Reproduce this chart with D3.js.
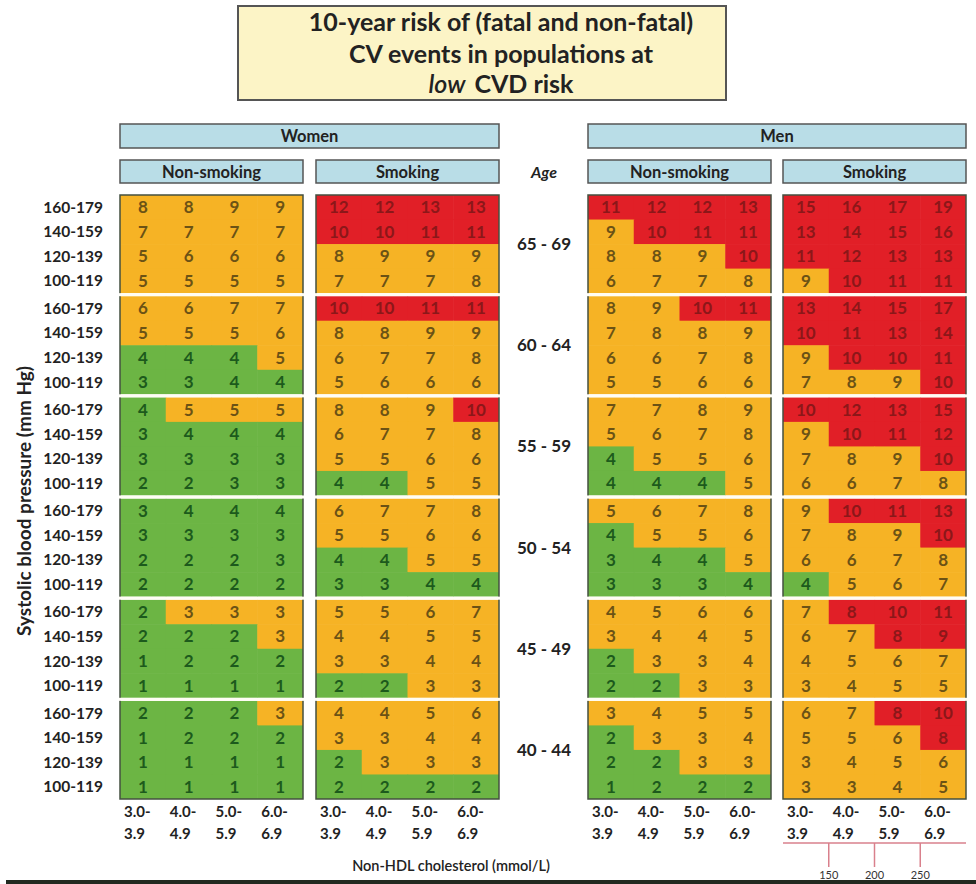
<!DOCTYPE html>
<html>
<head>
<meta charset="utf-8">
<script src="https://cdn.jsdelivr.net/npm/d3@7"></script>
<style>
  body { margin: 0; background: #fff; }
  svg text { font-family: Lato, "Noto Sans", sans-serif; font-weight: 700; }
</style>
</head>
<body>
<svg id="chart"></svg>
<script>
// Row / column categories
const ages = ["65 - 69", "60 - 64", "55 - 59", "50 - 54", "45 - 49", "40 - 44"];
const sbpRows = ["160-179", "140-159", "120-139", "100-119"];
const cholLow = ["3.0-", "4.0-", "5.0-", "6.0-"];
const cholHigh = ["3.9", "4.9", "5.9", "6.9"];
const mgTicks = ["150", "200", "250"];

// Risk cut-offs (%) : green below the first, red from the second
const cutoffsUnder50 = [2.5, 7.5];
const cutoffs50to69 = [5, 10];
const ageCutoffs = [cutoffs50to69, cutoffs50to69, cutoffs50to69, cutoffs50to69, cutoffsUnder50, cutoffsUnder50];

// 10-year risk values, one block of 4x4 per age group (top age first)
const womenNonSmoking = [
    [[8, 8, 9, 9], [7, 7, 7, 7], [5, 6, 6, 6], [5, 5, 5, 5]],
    [[6, 6, 7, 7], [5, 5, 5, 6], [4, 4, 4, 5], [3, 3, 4, 4]],
    [[4, 5, 5, 5], [3, 4, 4, 4], [3, 3, 3, 3], [2, 2, 3, 3]],
    [[3, 4, 4, 4], [3, 3, 3, 3], [2, 2, 2, 3], [2, 2, 2, 2]],
    [[2, 3, 3, 3], [2, 2, 2, 3], [1, 2, 2, 2], [1, 1, 1, 1]],
    [[2, 2, 2, 3], [1, 2, 2, 2], [1, 1, 1, 1], [1, 1, 1, 1]]
];
const womenSmoking = [
    [[12, 12, 13, 13], [10, 10, 11, 11], [8, 9, 9, 9], [7, 7, 7, 8]],
    [[10, 10, 11, 11], [8, 8, 9, 9], [6, 7, 7, 8], [5, 6, 6, 6]],
    [[8, 8, 9, 10], [6, 7, 7, 8], [5, 5, 6, 6], [4, 4, 5, 5]],
    [[6, 7, 7, 8], [5, 5, 6, 6], [4, 4, 5, 5], [3, 3, 4, 4]],
    [[5, 5, 6, 7], [4, 4, 5, 5], [3, 3, 4, 4], [2, 2, 3, 3]],
    [[4, 4, 5, 6], [3, 3, 4, 4], [2, 3, 3, 3], [2, 2, 2, 2]]
];
const menNonSmoking = [
    [[11, 12, 12, 13], [9, 10, 11, 11], [8, 8, 9, 10], [6, 7, 7, 8]],
    [[8, 9, 10, 11], [7, 8, 8, 9], [6, 6, 7, 8], [5, 5, 6, 6]],
    [[7, 7, 8, 9], [5, 6, 7, 8], [4, 5, 5, 6], [4, 4, 4, 5]],
    [[5, 6, 7, 8], [4, 5, 5, 6], [3, 4, 4, 5], [3, 3, 3, 4]],
    [[4, 5, 6, 6], [3, 4, 4, 5], [2, 3, 3, 4], [2, 2, 3, 3]],
    [[3, 4, 5, 5], [2, 3, 3, 4], [2, 2, 3, 3], [1, 2, 2, 2]]
];
const menSmoking = [
    [[15, 16, 17, 19], [13, 14, 15, 16], [11, 12, 13, 13], [9, 10, 11, 11]],
    [[13, 14, 15, 17], [10, 11, 13, 14], [9, 10, 10, 11], [7, 8, 9, 10]],
    [[10, 12, 13, 15], [9, 10, 11, 12], [7, 8, 9, 10], [6, 6, 7, 8]],
    [[9, 10, 11, 13], [7, 8, 9, 10], [6, 6, 7, 8], [4, 5, 6, 7]],
    [[7, 8, 10, 11], [6, 7, 8, 9], [4, 5, 6, 7], [3, 4, 5, 5]],
    [[6, 7, 8, 10], [5, 5, 6, 8], [3, 4, 5, 6], [3, 3, 4, 5]]
];

const fills = ["#6cb544", "#f6b325", "#e11f27"];
const inks = ["#1c5a1c", "#6b5215", "#8c1719"];
const borderColor = "#445040";
const headerFill = "#b9dde7";

const svg = d3.select("#chart").attr("width", 976).attr("height", 884);

const panelWidth = 183;
const panels = [
    { x: 120, values: womenNonSmoking },
    { x: 316, values: womenSmoking },
    { x: 588, values: menNonSmoking },
    { x: 783, values: menSmoking }
];

// Scales for the age blocks, the blood pressure rows and the cholesterol columns
const ageBand = d3.scaleBand().domain(ages).range([195, 799]).paddingInner(0.03);
const rowBand = d3.scaleBand().domain(sbpRows).range([0, ageBand.bandwidth()]);
const colBand = d3.scaleBand().domain(cholLow).range([0, panelWidth]);
const gap = ageBand.step() - ageBand.bandwidth();

const riskLevel = (v, ageIndex) => {
    const c = ageCutoffs[ageIndex];
    return v < c[0] ? 0 : v < c[1] ? 1 : 2;
};

// Title box
svg.append("rect")
    .attr("x", 238).attr("y", 6).attr("width", 488).attr("height", 94)
    .attr("fill", "#fcf4c6").attr("stroke", "#555").attr("stroke-width", 2);

const titleLines = ["10-year risk of (fatal and non-fatal)", "CV events in populations at"];
svg.selectAll(".title")
    .data(titleLines)
    .enter()
    .append("text")
    .attr("class", "title")
    .attr("x", 501)
    .attr("y", (d, i) => 31 + i * 32)
    .attr("text-anchor", "middle")
    .style("font-size", "25px")
    .attr("fill", "#222")
    .text((d) => d);

const line3 = svg.append("text")
    .attr("x", 501).attr("y", 93)
    .attr("text-anchor", "middle")
    .style("font-size", "25px")
    .attr("fill", "#222");
line3.append("tspan").style("font-style", "italic").style("font-weight", 600).text("low");
line3.append("tspan").attr("dx", 9).text("CVD risk");

// Sex headers and smoking sub headers
const headerBox = (x, y, w, h, label) => {
    svg.append("rect")
        .attr("x", x).attr("y", y).attr("width", w).attr("height", h)
        .attr("fill", headerFill).attr("stroke", "#555").attr("stroke-width", 1.5);
    svg.append("text")
        .attr("x", x + w / 2).attr("y", y + h / 2 + 6)
        .attr("text-anchor", "middle")
        .style("font-size", "16.5px")
        .attr("fill", "#222")
        .text(label);
};

headerBox(panels[0].x, 124, panels[1].x + panelWidth - panels[0].x, 24, "Women");
headerBox(panels[2].x, 124, panels[3].x + panelWidth - panels[2].x, 24, "Men");
panels.forEach((p, i) => headerBox(p.x, 160, panelWidth, 23, i % 2 === 0 ? "Non-smoking" : "Smoking"));

svg.append("text")
    .attr("x", 544).attr("y", 178)
    .attr("text-anchor", "middle")
    .style("font-size", "16px")
    .style("font-style", "italic")
    .attr("fill", "#222")
    .text("Age");

// Age labels in the middle column
svg.selectAll(".age")
    .data(ages)
    .enter()
    .append("text")
    .attr("class", "age")
    .attr("x", 544)
    .attr("y", (d) => ageBand(d) + ageBand.bandwidth() / 2 + 6)
    .attr("text-anchor", "middle")
    .style("font-size", "17px")
    .attr("fill", "#222")
    .text((d) => d);

// Blood pressure labels on the left
const rowLabels = ages.flatMap((a) => sbpRows.map((r) => ({ a, r })));
svg.selectAll(".sbp")
    .data(rowLabels)
    .enter()
    .append("text")
    .attr("class", "sbp")
    .attr("x", 103)
    .attr("y", (d) => ageBand(d.a) + rowBand(d.r) + rowBand.bandwidth() / 2 + 5.5)
    .attr("text-anchor", "end")
    .style("font-size", "15.5px")
    .attr("fill", "#222")
    .text((d) => d.r);

svg.append("text")
    .attr("transform", "translate(31, 501) rotate(-90)")
    .attr("text-anchor", "middle")
    .style("font-size", "19px")
    .attr("fill", "#222")
    .text("Systolic blood pressure (mm Hg)");

// Panels of cells
panels.forEach((p) => {
    const g = svg.append("g").attr("transform", "translate(" + p.x + ", 0)");

    const cells = p.values.flatMap((block, i) =>
        block.flatMap((row, j) => row.map((v, k) => ({ v, i, j, k, level: riskLevel(v, i) })))
    );

    const cell = g.selectAll("g.cell")
        .data(cells)
        .enter()
        .append("g")
        .attr("class", "cell")
        .attr("transform", (d) => "translate(" + colBand(cholLow[d.k]) + ", " + (ageBand(ages[d.i]) + rowBand(sbpRows[d.j])) + ")");

    cell.append("rect")
        .attr("width", (d) => colBand.bandwidth() + (d.k < 3 ? 0.6 : 0))
        .attr("height", (d) => rowBand.bandwidth() + (d.j < 3 ? 0.6 : 0))
        .attr("fill", (d) => fills[d.level]);

    cell.append("text")
        .attr("x", colBand.bandwidth() / 2)
        .attr("y", rowBand.bandwidth() / 2 + 6)
        .attr("text-anchor", "middle")
        .style("font-size", "17px")
        .attr("fill", (d) => inks[d.level])
        .text((d) => d.v);

    g.append("rect")
        .attr("x", 0)
        .attr("y", ageBand.range()[0])
        .attr("width", panelWidth)
        .attr("height", ageBand.range()[1] - ageBand.range()[0])
        .attr("fill", "none")
        .attr("stroke", borderColor)
        .attr("stroke-width", 1.5);

    // White separators between the age blocks
    g.selectAll(".sep")
        .data(ages.slice(1))
        .enter()
        .append("rect")
        .attr("class", "sep")
        .attr("x", -1)
        .attr("y", (d) => ageBand(d) - gap)
        .attr("width", panelWidth + 2)
        .attr("height", gap)
        .attr("fill", "#fffdf5");

    // Cholesterol column labels
    g.selectAll(".chol-low")
        .data(cholLow)
        .enter()
        .append("text")
        .attr("x", (d) => colBand(d) + 4)
        .attr("y", 817)
        .style("font-size", "15px")
        .attr("fill", "#222")
        .text((d) => d);

    g.selectAll(".chol-high")
        .data(cholHigh)
        .enter()
        .append("text")
        .attr("x", (d, i) => colBand(cholLow[i]) + 4)
        .attr("y", 839)
        .style("font-size", "15px")
        .attr("fill", "#222")
        .text((d) => d);
});

svg.append("text")
    .attr("x", 451).attr("y", 871)
    .attr("text-anchor", "middle")
    .style("font-size", "14.5px")
    .style("font-weight", 600)
    .attr("fill", "#222")
    .text("Non-HDL cholesterol (mmol/L)");

// mg/dL conversion ruler under the men smoking panel
const ruler = svg.append("g").attr("transform", "translate(" + panels[3].x + ", 0)");
ruler.append("line")
    .attr("x1", 0).attr("x2", panelWidth)
    .attr("y1", 843).attr("y2", 843)
    .attr("stroke", "#d9808c").attr("stroke-width", 1.5);

ruler.selectAll(".mg-tick")
    .data(mgTicks)
    .enter()
    .append("line")
    .attr("x1", (d, i) => colBand(cholLow[i + 1]))
    .attr("x2", (d, i) => colBand(cholLow[i + 1]))
    .attr("y1", 843).attr("y2", 867)
    .attr("stroke", "#d9808c").attr("stroke-width", 1.5);

ruler.selectAll(".mg-label")
    .data(mgTicks)
    .enter()
    .append("text")
    .attr("x", (d, i) => colBand(cholLow[i + 1]))
    .attr("y", 879)
    .attr("text-anchor", "middle")
    .style("font-size", "11px")
    .style("font-weight", 400)
    .attr("fill", "#333")
    .text((d) => d);

// Dark bar along the bottom edge
svg.append("rect")
    .attr("x", 6).attr("y", 880).attr("width", 970).attr("height", 4)
    .attr("fill", "#222a20");
</script>
</body>
</html>
